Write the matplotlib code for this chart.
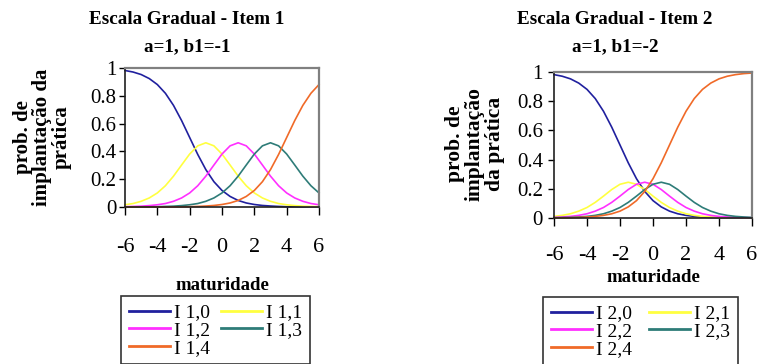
import matplotlib
matplotlib.use("Agg")
import matplotlib.pyplot as plt
import numpy as np

plt.rcParams['font.family'] = ['Liberation Serif', 'DejaVu Serif']

# maturidade (theta) values
theta = np.arange(-6, 6.01, 0.5)

# Item 1 (a=1, b1=-1)
i1_0 = [0.982, 0.971, 0.953, 0.924, 0.881, 0.818, 0.731, 0.622, 0.500, 0.378, 0.269, 0.182, 0.119,
        0.076, 0.047, 0.029, 0.018, 0.011, 0.007, 0.004, 0.002, 0.002, 0.001, 0.001, 0.000]
i1_1 = [0.016, 0.025, 0.041, 0.065, 0.101, 0.153, 0.222, 0.302, 0.381, 0.440, 0.462, 0.440, 0.381,
        0.302, 0.222, 0.153, 0.101, 0.065, 0.041, 0.025, 0.016, 0.010, 0.006, 0.004, 0.002]
i1_2 = [0.002, 0.004, 0.006, 0.010, 0.016, 0.025, 0.041, 0.065, 0.101, 0.153, 0.222, 0.302, 0.381,
        0.440, 0.462, 0.440, 0.381, 0.302, 0.222, 0.153, 0.101, 0.065, 0.041, 0.025, 0.016]
i1_3 = [0.000, 0.000, 0.001, 0.001, 0.002, 0.004, 0.006, 0.010, 0.016, 0.025, 0.041, 0.065, 0.101,
        0.153, 0.222, 0.302, 0.381, 0.440, 0.462, 0.440, 0.381, 0.302, 0.222, 0.153, 0.101]
i1_4 = [0.000, 0.000, 0.000, 0.000, 0.000, 0.001, 0.001, 0.001, 0.002, 0.004, 0.007, 0.011, 0.018,
        0.029, 0.047, 0.076, 0.119, 0.182, 0.269, 0.378, 0.500, 0.622, 0.731, 0.818, 0.881]

# Item 2 (a=1, b1=-2)
i2_0 = [0.982, 0.971, 0.953, 0.924, 0.881, 0.818, 0.731, 0.622, 0.500, 0.378, 0.269, 0.182, 0.119,
        0.076, 0.047, 0.029, 0.018, 0.011, 0.007, 0.004, 0.002, 0.002, 0.001, 0.001, 0.000]
i2_1 = [0.011, 0.018, 0.029, 0.047, 0.072, 0.107, 0.150, 0.195, 0.231, 0.245, 0.231, 0.195, 0.150,
        0.107, 0.072, 0.047, 0.029, 0.018, 0.011, 0.007, 0.004, 0.003, 0.002, 0.001, 0.001]
i2_2 = [0.004, 0.007, 0.011, 0.018, 0.029, 0.047, 0.072, 0.107, 0.150, 0.195, 0.231, 0.245, 0.231,
        0.195, 0.150, 0.107, 0.072, 0.047, 0.029, 0.018, 0.011, 0.007, 0.004, 0.003, 0.002]
i2_3 = [0.002, 0.003, 0.004, 0.007, 0.011, 0.018, 0.029, 0.047, 0.072, 0.107, 0.150, 0.195, 0.231,
        0.245, 0.231, 0.195, 0.150, 0.107, 0.072, 0.047, 0.029, 0.018, 0.011, 0.007, 0.004]
i2_4 = [0.001, 0.001, 0.002, 0.004, 0.007, 0.011, 0.018, 0.029, 0.047, 0.076, 0.119, 0.182, 0.269,
        0.378, 0.500, 0.622, 0.731, 0.818, 0.881, 0.924, 0.953, 0.971, 0.982, 0.989, 0.993]

x_ticks = [-6, -4, -2, 0, 2, 4, 6]
y_ticks = [0, 0.2, 0.4, 0.6, 0.8, 1]
y_ticklabels = ["0", "0.2", "0.4", "0.6", "0.8", "1"]

colors = ["#20209e", "#ffff40", "#ff30ff", "#2e7c78", "#f06a28"]

W, H = 759, 364
fig = plt.figure(figsize=(W / 100, H / 100), dpi=100)


def px_axes(l, t, r, b):
    return fig.add_axes([l / W, 1 - b / H, (r - l) / W, (b - t) / H])


def setup(ax, xpad, ypad):
    ax.set_xlim(-6, 6)
    ax.set_ylim(0, 1)
    ax.set_xticks(x_ticks)
    ax.set_xticklabels([str(v) for v in x_ticks])
    ax.set_yticks(y_ticks)
    ax.set_yticklabels(y_ticklabels)
    for s in ("top", "right"):
        ax.spines[s].set_color("#808080")
        ax.spines[s].set_linewidth(1.6)
    for s in ("left", "bottom"):
        ax.spines[s].set_color("#202020")
        ax.spines[s].set_linewidth(1.2)
    ax.tick_params(axis="x", direction="out", length=6, width=1, pad=xpad, labelsize=16)
    ax.tick_params(axis="y", direction="out", length=4, width=1, pad=ypad, labelsize=15)


def draw(ax, series, names):
    lines = []
    for s, c, n in zip(series, colors, names):
        ln, = ax.plot(theta, s, color=c, lw=1.2, label=n, clip_on=False)
        lines.append(ln)
    return lines


def legend(lines, anchor, colspace):
    order = [0, 2, 4, 1, 3]
    leg = fig.legend([lines[i] for i in order], [lines[i].get_label() for i in order],
                     loc="upper left", bbox_to_anchor=anchor, ncol=2,
                     fontsize=14, frameon=True, fancybox=False, edgecolor="black",
                     handlelength=2.1, handletextpad=0.2, labelspacing=0.0,
                     columnspacing=colspace, borderpad=0.4, borderaxespad=0)
    leg.get_frame().set_linewidth(1.2)
    for ln in leg.get_lines():
        ln.set_linewidth(2)
    return leg


# ---- Item 1
ax1 = px_axes(125, 68, 319, 207)
setup(ax1, 16, 2)
l1 = draw(ax1, [i1_0, i1_1, i1_2, i1_3, i1_4], ["I 1,0", "I 1,1", "I 1,2", "I 1,3", "I 1,4"])
fig.text(187 / W, 1 - 20 / H, "Escala Gradual - Item 1", ha="center", va="center",
         fontsize=13.8, fontweight="bold")
fig.text(187 / W, 1 - 47 / H, "a=1, b1=-1", ha="center", va="center",
         fontsize=13.8, fontweight="bold")
fig.text(42 / W, 1 - 137 / H, "prob. de\nimplantação da\nprática", rotation=90,
         ha="center", va="center", multialignment="center", fontsize=15,
         fontweight="bold", linespacing=0.95)
fig.text(222 / W, 1 - 285 / H, "maturidade", ha="center", va="center",
         fontsize=13.5, fontweight="bold")
legend(l1, (121 / W, 1 - 296 / H), 0.6)

# ---- Item 2
ax2 = px_axes(554, 72, 752, 218)
setup(ax2, 14, 4)
l2 = draw(ax2, [i2_0, i2_1, i2_2, i2_3, i2_4], ["I 2,0", "I 2,1", "I 2,2", "I 2,3", "I 2,4"])
fig.text(615 / W, 1 - 20 / H, "Escala Gradual - Item 2", ha="center", va="center",
         fontsize=13.8, fontweight="bold")
fig.text(615 / W, 1 - 47 / H, "a=1, b1=-2", ha="center", va="center",
         fontsize=13.8, fontweight="bold")
fig.text(475 / W, 1 - 144 / H, "prob. de\nimplantação\nda prática", rotation=90,
         ha="center", va="center", multialignment="center", fontsize=15.5,
         fontweight="bold", linespacing=1.0)
fig.text(653 / W, 1 - 277 / H, "maturidade", ha="center", va="center",
         fontsize=13.5, fontweight="bold")
legend(l2, (543 / W, 1 - 297 / H), 0.9)

fig.savefig("out.png", dpi=100, facecolor="white")
